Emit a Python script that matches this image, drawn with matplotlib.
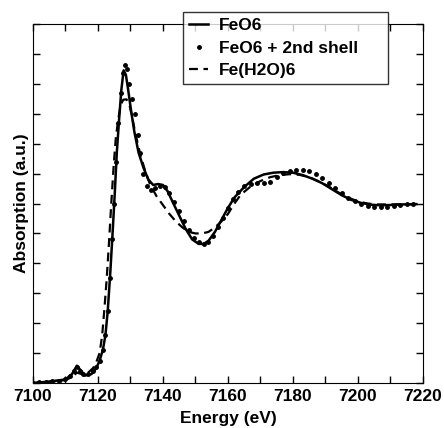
import numpy as np
import matplotlib
matplotlib.use("Agg")
import matplotlib.pyplot as plt

plt.rcParams['font.family'] = ['Liberation Sans', 'DejaVu Sans']
plt.rcParams['font.weight'] = 'bold'

# FeO6
e_feo6 = [7100, 7105, 7110, 7112, 7113.5, 7114.5, 7116, 7118, 7119.5, 7120.5,
          7121.5, 7122.3, 7123, 7123.8, 7124.6, 7125.2, 7125.8, 7126.5, 7127.2, 7127.9,
          7128.6, 7129.3, 7130.2, 7131.2, 7132.5, 7134, 7135.5, 7137, 7138.5, 7140,
          7141.5, 7143, 7145, 7147, 7149, 7151, 7152.5, 7154, 7156, 7158,
          7160, 7162, 7165, 7168, 7171, 7174, 7177, 7180, 7183, 7186,
          7189, 7192, 7195, 7198, 7201, 7204, 7207, 7210, 7214, 7218]
a_feo6 = [0.0, 0.005, 0.012, 0.03, 0.058, 0.045, 0.025, 0.03, 0.05, 0.075,
          0.11, 0.16, 0.24, 0.37, 0.52, 0.64, 0.77, 0.88, 0.98, 1.045,
          1.03, 0.98, 0.91, 0.84, 0.77, 0.72, 0.68, 0.662, 0.665, 0.662,
          0.64, 0.605, 0.56, 0.515, 0.48, 0.465, 0.465, 0.475, 0.505, 0.545,
          0.585, 0.62, 0.655, 0.683, 0.697, 0.703, 0.705, 0.703, 0.695, 0.683,
          0.668, 0.648, 0.628, 0.612, 0.602, 0.596, 0.594, 0.595, 0.597, 0.598]

# FeO6 + 2nd shell
e_shell = [7100, 7102, 7104, 7106, 7108, 7110, 7111.5, 7112.5, 7113.5, 7114.5,
           7115.5, 7117, 7118.5, 7119.5, 7120.5, 7121.5, 7122.3, 7123, 7123.7, 7124.4,
           7125, 7125.6, 7126.3, 7127, 7127.7, 7128.4, 7129, 7129.6, 7130.4, 7131.3,
           7132.2, 7133, 7133.9, 7135, 7136.3, 7137.6, 7139, 7140.5, 7142, 7143.5,
           7145, 7146.5, 7148, 7149.5, 7151, 7152.5, 7154, 7155.5, 7157, 7158.5,
           7160, 7161.5, 7163, 7165, 7167, 7169, 7171, 7173, 7175, 7177,
           7179, 7181, 7183, 7185, 7187, 7189, 7191, 7193, 7195, 7197,
           7199, 7201, 7203, 7205, 7207, 7209, 7211, 7213, 7215, 7217]
a_shell = [0.0, 0.002, 0.004, 0.006, 0.008, 0.012, 0.022, 0.04, 0.055, 0.04,
           0.03, 0.03, 0.04, 0.055, 0.075, 0.11, 0.16, 0.24, 0.35, 0.48,
           0.6, 0.74, 0.87, 0.97, 1.035, 1.062, 1.05, 1.0, 0.95, 0.9,
           0.83, 0.77, 0.7, 0.66, 0.645, 0.652, 0.66, 0.655, 0.635, 0.605,
           0.575, 0.54, 0.51, 0.485, 0.47, 0.465, 0.47, 0.49, 0.52, 0.55,
           0.585, 0.615, 0.64, 0.657, 0.665, 0.667, 0.668, 0.672, 0.69, 0.703,
           0.708, 0.712, 0.712, 0.708, 0.698, 0.685, 0.668, 0.652, 0.635, 0.62,
           0.607, 0.598, 0.592, 0.589, 0.588, 0.589, 0.591, 0.594, 0.597, 0.6]

# Fe(H2O)6
e_h2o = [7100, 7105, 7110, 7112, 7113.5, 7115, 7117, 7118.5, 7119.5, 7120.5,
         7121.3, 7122, 7122.7, 7123.4, 7124.1, 7124.8, 7125.5, 7126.3, 7127, 7127.8,
         7128.8, 7129.7, 7130.6, 7131.5, 7133, 7134.5, 7136, 7138, 7140, 7142,
         7144, 7146, 7148, 7150, 7152, 7154, 7156, 7158, 7160, 7162,
         7164, 7167, 7170, 7173, 7176, 7179, 7182, 7185, 7188, 7191,
         7194, 7197, 7200, 7203, 7206, 7210, 7214, 7218]
a_h2o = [0.0, 0.004, 0.01, 0.02, 0.035, 0.03, 0.035, 0.05, 0.07, 0.1,
         0.16, 0.25, 0.35, 0.47, 0.6, 0.72, 0.82, 0.885, 0.93, 0.947,
         0.948, 0.93, 0.885, 0.835, 0.765, 0.71, 0.665, 0.625, 0.595, 0.565,
         0.54, 0.52, 0.505, 0.5, 0.5, 0.505, 0.52, 0.54, 0.565, 0.6,
         0.63, 0.657, 0.675, 0.688, 0.695, 0.698, 0.696, 0.688, 0.674, 0.657,
         0.637, 0.62, 0.607, 0.6, 0.597, 0.597, 0.598, 0.598]

fig = plt.figure(figsize=(4.44, 4.28), dpi=100)
ax = fig.add_axes([0.0743, 0.105, 0.878, 0.839])

ax.plot(e_feo6, a_feo6, '-', color='black', lw=1.8, label='FeO6')
ax.plot(e_shell, a_shell, '.', color='black', ms=5, label='FeO6 + 2nd shell')
ax.plot(e_h2o, a_h2o, '--', color='black', lw=1.6, dashes=(4, 2.5), label='Fe(H2O)6')

ax.set_xlim(7100, 7220)
ax.set_ylim(0, 1.2)
ax.set_xticks(np.arange(7100, 7221, 20))
ax.set_xticks(np.arange(7110, 7220, 20), minor=True)
ax.set_yticks(np.arange(0, 1.21, 0.1))
ax.set_yticklabels([])
ax.tick_params(which='both', direction='in', top=True, right=True,
               length=5, width=1, labelsize=12.5, pad=4)
for lab in ax.get_xticklabels():
    lab.set_fontweight('bold')

ax.set_xlabel('Energy (eV)', fontsize=12.5, fontweight='bold', labelpad=5)
ax.set_ylabel('Absorption (a.u.)', fontsize=12.5, fontweight='bold', labelpad=-1)

leg = ax.legend(loc='upper left', bbox_to_anchor=(0.385, 0.836, 0.525, 0.197),
                mode='expand', fontsize=12.5,
                frameon=True, fancybox=False, edgecolor='black',
                handlelength=1.1, handletextpad=0.6, borderpad=0.35,
                labelspacing=0.42, borderaxespad=0)
leg.get_frame().set_linewidth(1.0)
leg.set_zorder(5)

fig.savefig('out.png', dpi=100)
